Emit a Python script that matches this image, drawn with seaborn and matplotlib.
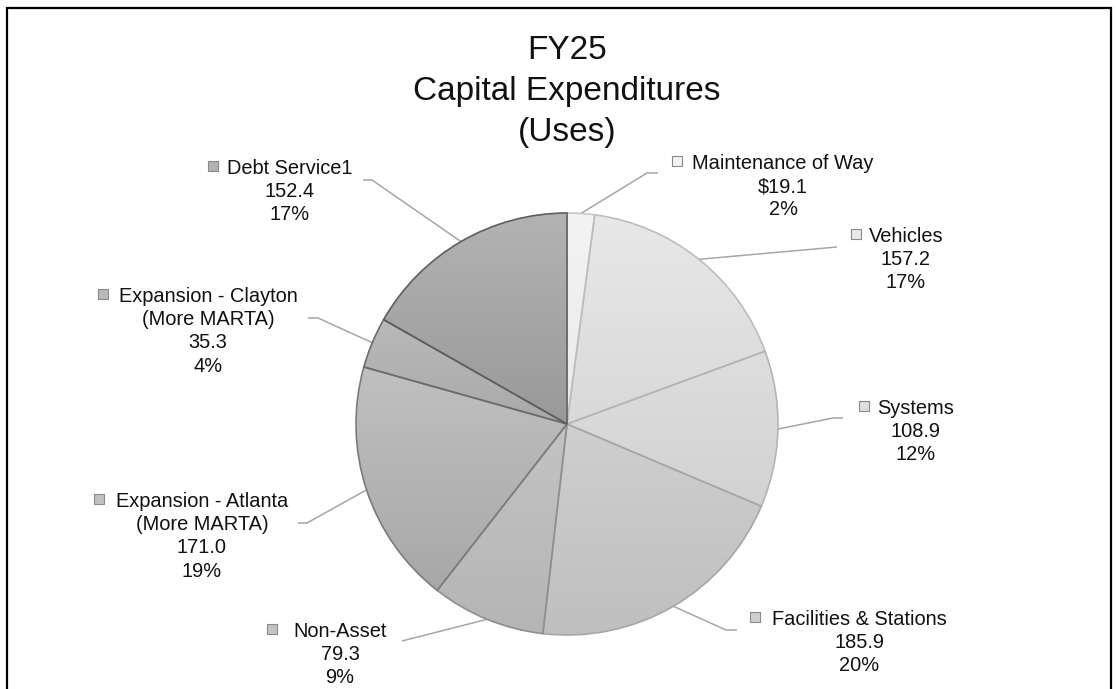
import numpy as np
import matplotlib
matplotlib.use("Agg")
import matplotlib.pyplot as plt
import seaborn as sns

# ---- data -------------------------------------------------------------
categories = [
    "Maintenance of Way",
    "Vehicles",
    "Systems",
    "Facilities & Stations",
    "Non-Asset",
    "Expansion - Atlanta\n(More MARTA)",
    "Expansion - Clayton\n(More MARTA)",
    "Debt Service1",
]
amounts = [19.1, 157.2, 108.9, 185.9, 79.3, 171.0, 35.3, 152.4]
value_prefix = ["$", "", "", "", "", "", "", ""]
title_lines = ["FY25", "Capital Expenditures", "(Uses)"]

# ---- styling ----------------------------------------------------------
shade_top = ["#f3f3f3", "#e8e8e8", "#dedede", "#cfcfcf",
             "#c3c3c3", "#c0c0c0", "#b9b9b9", "#b3b3b3"]
shade_bottom = ["#eaeaea", "#d9d9d9", "#d2d2d2", "#bfbfbf",
                "#b5b5b5", "#a8a8a8", "#a9a9a9", "#999999"]
edge_colors = ["#c8c8c8", "#bdbdbd", "#b4b4b4", "#a6a6a6",
               "#8e8e8e", "#7b7b7b", "#6c6c6c", "#5e5e5e"]
leader_color = "#a6a6a6"

# ---- layout (pixels from the top-left corner) -------------------------
W, H = 1116, 689
pie_cx, pie_cy, pie_r = 567, 424, 211
label_cx = [783, 906, 916, 859, 340, 202, 208, 290]     # text block centre x
label_top = [162, 235, 407, 618, 630, 500, 295, 167]    # first-line centre y
marker_x = [677, 856, 864, 755, 272, 99, 103, 213]
line_gap = 23.2
elbow = [(647, 173), (837, 247), (833, 418), (726, 630),
         (402, 641), (307, 523), (318, 318), (372, 180)]
tail = [(658, 173), None, (843, 418), (737, 630),
        None, (298, 523), (308, 318), (363, 180)]


def fy(y):
    """Convert a top-down pixel row to the y-up data coordinate."""
    return H - y


sns.set_theme(style="white")
plt.rcParams["font.family"] = ["Liberation Sans", "DejaVu Sans"]

fig = plt.figure(figsize=(W / 100, H / 100), dpi=100)
ax = fig.add_axes([0, 0, 1, 1])

wedges, _ = ax.pie(
    amounts,
    startangle=90,
    counterclock=False,
    center=(pie_cx, fy(pie_cy)),
    radius=pie_r,
    colors=shade_bottom,
    wedgeprops=dict(linewidth=1.2),
    frame=True,
)

# vertical gradient inside each wedge
grad = np.linspace(0, 1, 256).reshape(-1, 1)
for i, w in enumerate(wedges):
    ext = w.get_path().get_extents()
    cmap = sns.blend_palette([shade_top[i], shade_bottom[i]], as_cmap=True)
    im = ax.imshow(grad, cmap=cmap, origin="upper", aspect="auto",
                   interpolation="bilinear",
                   extent=(ext.x0, ext.x1, ext.y0, ext.y1), zorder=2)
    im.set_clip_path(w)
    w.set_facecolor("none")
    w.set_edgecolor(edge_colors[i])
    w.set_zorder(3 + i * 0.01)

total = sum(amounts)
for i, w in enumerate(wedges):
    # leader line from the middle of the wedge's arc to the label
    mid = np.deg2rad((w.theta1 + w.theta2) / 2)
    sx = pie_cx + pie_r * np.cos(mid)
    sy = fy(pie_cy) + pie_r * np.sin(mid)
    xs = [sx, elbow[i][0]]
    ys = [sy, fy(elbow[i][1])]
    if tail[i] is not None:
        xs.append(tail[i][0])
        ys.append(fy(tail[i][1]))
    ax.plot(xs, ys, color=leader_color, lw=1.1, zorder=1,
            solid_capstyle="butt")

    # label text, one line at a time
    pct = amounts[i] / total * 100
    lines = categories[i].split("\n") + [
        f"{value_prefix[i]}{amounts[i]:.1f}", f"{pct:.0f}%"]
    for k, line in enumerate(lines):
        yc = label_top[i] + k * line_gap
        ax.text(label_cx[i], fy(yc + 7), line, ha="center", va="baseline",
                fontsize=14.4, color="#111111", zorder=5)

    # legend key square beside the category name
    ax.scatter([marker_x[i]], [fy(label_top[i] - 1)], marker="s", s=46,
               color=shade_top[i], edgecolors="#8a8a8a", linewidths=0.8,
               zorder=5)

# title
title_baselines = [59, 100, 141]
for line, yb in zip(title_lines, title_baselines):
    ax.text(pie_cx, fy(yb), line, ha="center", va="baseline",
            fontsize=24, color="#111111")

# chart-area border
ax.plot([7, 7, 1111, 1111], [0, fy(8), fy(8), 0], color="black", lw=1.6,
        solid_joinstyle="miter", zorder=6)

ax.set_xlim(0, W)
ax.set_ylim(0, H)
ax.set_axis_off()

fig.savefig("out.png", dpi=100, facecolor="white")
